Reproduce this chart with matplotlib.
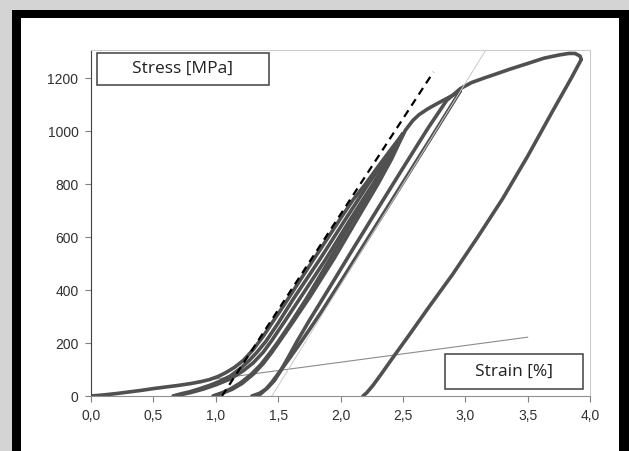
import matplotlib
matplotlib.use("Agg")
import matplotlib.pyplot as plt
from matplotlib.patches import Rectangle

W, H = 629, 451

# cyclic loading test (strain %, stress MPa)
load1_strain = [0, 0.1, 0.2, 0.3, 0.4, 0.5, 0.6, 0.7, 0.8, 0.88, 0.95, 1.02, 1.08, 1.15, 1.22,
                1.3, 1.38, 1.46, 1.55, 1.65, 1.77, 1.9, 2.0, 2.1, 2.2, 2.3, 2.4, 2.5]
load1_stress = [0, 4, 9, 15, 21, 28, 34, 40, 47, 54, 62, 74, 88, 108, 134,
                175, 225, 282, 345, 418, 505, 598, 670, 740, 800, 865, 928, 990]

unload1_strain = [2.5, 2.39, 2.26, 2.07, 1.88, 1.67, 1.55, 1.45, 1.38, 1.3, 1.22, 1.12, 1.0,
                  0.9, 0.8, 0.72, 0.66]
unload1_stress = [990, 900, 800, 660, 515, 365, 280, 210, 165, 125, 95, 65, 42,
                  26, 13, 5, 0]

reload1_strain = [0.66, 0.72, 0.8, 0.875, 0.95, 1.03, 1.115, 1.2, 1.27, 1.33, 1.4, 1.5, 1.62,
                  1.84, 2.03, 2.23, 2.37, 2.5]
reload1_stress = [0, 8, 17, 28, 40, 55, 75, 105, 135, 165, 205, 275, 365,
                  520, 660, 805, 900, 990]

unload2_strain = [2.5, 2.4, 2.28, 2.1, 1.92, 1.73, 1.6, 1.5, 1.43, 1.36, 1.28, 1.2, 1.12, 1.05, 0.98]
unload2_stress = [990, 905, 805, 665, 520, 370, 275, 205, 160, 118, 80, 50, 27, 12, 0]

reload2_strain = [0.98, 1.05, 1.13, 1.21, 1.3, 1.38, 1.45, 1.52, 1.62, 1.76, 1.95, 2.13, 2.3,
                  2.41, 2.47, 2.52, 2.58, 2.63, 2.7, 2.78, 2.86, 2.96]
reload2_stress = [0, 10, 25, 47, 82, 122, 165, 212, 280, 378, 520, 665, 800,
                  895, 955, 1003, 1040, 1062, 1084, 1105, 1125, 1151]

unload3_strain = [2.96, 2.8, 2.6, 2.4, 2.2, 2.0, 1.85, 1.75, 1.66, 1.58, 1.51, 1.45, 1.4, 1.36, 1.33]
unload3_stress = [1151, 1030, 880, 730, 580, 430, 320, 250, 188, 135, 90, 52, 25, 8, 0]

reload3_strain = [1.29, 1.35, 1.41, 1.47, 1.52, 1.58, 1.65, 1.75, 1.9, 2.1, 2.3, 2.5, 2.7, 2.85,
                  2.96, 3.05, 3.15, 3.25, 3.36, 3.5, 3.63, 3.75, 3.83, 3.88, 3.92, 3.93]
reload3_stress = [0, 10, 28, 58, 95, 145, 205, 285, 400, 555, 708, 860, 1010, 1115,
                  1160, 1183, 1200, 1216, 1234, 1255, 1275, 1287, 1293, 1293, 1283, 1270]

unload4_strain = [3.93, 3.85, 3.7, 3.5, 3.3, 3.1, 2.9, 2.7, 2.55, 2.42, 2.33, 2.26, 2.21, 2.18]
unload4_stress = [1270, 1200, 1075, 905, 745, 600, 460, 330, 230, 145, 85, 40, 12, 0]

tangent_strain = [1.05, 2.745]
tangent_stress = [0, 1223]

modulus_strain = [1.45, 3.17]
modulus_stress = [0, 1310]

low_strain = [0.85, 3.5]
low_stress = [55, 222]

xticks = [0, 0.5, 1.0, 1.5, 2.0, 2.5, 3.0, 3.5, 4.0]
yticks = [0, 200, 400, 600, 800, 1000, 1200]


def fpos(x, y):
    return x / W, 1 - y / H


fig = plt.figure(figsize=(W / 100, H / 100), dpi=100)
fig.patch.set_facecolor("#d4d4d4")

# black frame and white panel
x0, y0 = fpos(12, 10)
fig.patches.append(Rectangle((x0, -0.1), 1.2, y0 + 0.1, transform=fig.transFigure,
                             facecolor="black", edgecolor="none", zorder=-2))
x1, y1 = fpos(21, 18)
x2, _ = fpos(619, 18)
fig.patches.append(Rectangle((x1, -0.1), x2 - x1, y1 + 0.1, transform=fig.transFigure,
                             facecolor="white", edgecolor="none", zorder=-1))

l, t = fpos(91, 50)
r, b = fpos(590, 396)
ax = fig.add_axes([l, b, r - l, t - b])
ax.set_zorder(1)
ax.set_facecolor("none")

thick = dict(color="#505050", lw=2.6, solid_capstyle="round", solid_joinstyle="round")
ax.plot(low_strain, low_stress, color="#8c8c8c", lw=0.8)
for xs, ys in [(load1_strain, load1_stress), (unload1_strain, unload1_stress),
               (reload1_strain, reload1_stress), (unload2_strain, unload2_stress),
               (reload2_strain, reload2_stress), (unload3_strain, unload3_stress),
               (reload3_strain, reload3_stress), (unload4_strain, unload4_stress)]:
    ax.plot(xs, ys, **thick)
ax.plot(modulus_strain, modulus_stress, color="#c8c8c8", lw=0.7)
ax.plot(tangent_strain, tangent_stress, color="black", lw=1.6, dashes=(3.5, 2.5))

ax.set_xlim(0, 4)
ax.set_ylim(0, 1306)
ax.set_xticks(xticks)
ax.set_xticklabels([f"{v:.1f}".replace(".", ",") for v in xticks])
ax.set_yticks(yticks)
ax.set_yticklabels([str(v) for v in yticks])
ax.tick_params(axis="both", direction="out", length=4, width=0.8, color="#808080",
               labelsize=10, labelcolor="#303030", pad=5)
for lab in ax.get_xticklabels() + ax.get_yticklabels():
    lab.set_family("Liberation Sans")
ax.spines["left"].set_color("#404040")
ax.spines["bottom"].set_color("#909090")
ax.spines["top"].set_color("#cccccc")
ax.spines["right"].set_color("#cccccc")
for s in ax.spines.values():
    s.set_linewidth(0.8)


def label_box(px0, py0, px1, py1, text):
    a, bb = fpos(px0, py1)
    c, d = fpos(px1, py0)
    fig.patches.append(Rectangle((a, bb), c - a, d - bb, transform=fig.transFigure,
                                 facecolor="white", edgecolor="#404040", lw=1.1, zorder=5))
    fig.text((a + c) / 2, (bb + d) / 2, text, ha="center", va="center",
             family="Open Sans", fontsize=12.5, color="#202020", zorder=6)


label_box(97, 53, 269, 85, "Stress [MPa]")
label_box(445, 354, 583, 389, "Strain [%]")

fig.savefig("out.png", dpi=100, facecolor=fig.get_facecolor())
